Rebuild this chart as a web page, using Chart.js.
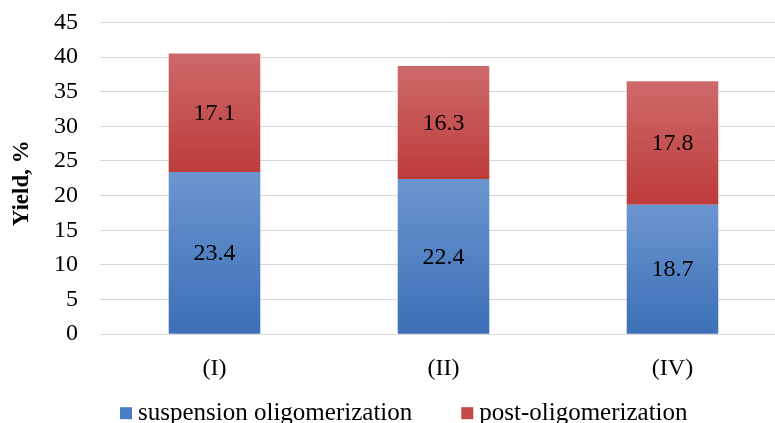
<!DOCTYPE html>
<html>
<head>
<meta charset="utf-8">
<script src="https://cdn.jsdelivr.net/npm/chart.js@4"></script>
<style>
  html, body { margin: 0; padding: 0; background: #ffffff; overflow: hidden; width: 775px; height: 423px; }
  canvas { display: block; margin-top: -14px; }
</style>
</head>
<body>
<canvas id="chart" width="787" height="437"></canvas>
<script>
// Catalyst samples and yields (%) of the two oligomerization stages
const categories = ['(I)', '(II)', '(IV)'];
const suspensionValues = [23.4, 22.4, 18.7];
const postValues = [17.1, 16.3, 17.8];
const seriesNames = ['suspension oligomerization', 'post-oligomerization'];
const yTicks = [0, 5, 10, 15, 20, 25, 30, 35, 40, 45];
const yTitle = 'Yield, %';

const FONT = '"Liberation Serif", "Times New Roman", serif';
Chart.defaults.font.family = FONT;
Chart.defaults.color = '#000000';

const legendColors = ['#4a7ec4', '#c44a4a'];

// Vertical gradient per stacked segment, light at top and darker at bottom
function segmentGradient(ctx, lower, upper, topColor, bottomColor, fallback) {
  const chart = ctx.chart;
  if (!chart.chartArea || ctx.type !== 'data') return fallback;
  const y = chart.scales.y;
  const i = ctx.dataIndex;
  const y0 = y.getPixelForValue(lower[i]);
  const y1 = y.getPixelForValue(upper[i]);
  if (!isFinite(y0) || !isFinite(y1) || y0 === y1) return fallback;
  const g = chart.ctx.createLinearGradient(0, y1, 0, y0);
  g.addColorStop(0, topColor);
  g.addColorStop(1, bottomColor);
  return g;
}

const zeros = suspensionValues.map(() => 0);
const totals = suspensionValues.map((v, i) => v + postValues[i]);

// Writes each segment's value in its centre
const segmentLabels = {
  id: 'segmentLabels',
  afterDatasetsDraw(chart) {
    const c = chart.ctx;
    c.save();
    c.font = '24px ' + FONT;
    c.fillStyle = '#000000';
    c.textAlign = 'center';
    c.textBaseline = 'middle';
    chart.data.datasets.forEach((ds, di) => {
      const meta = chart.getDatasetMeta(di);
      meta.data.forEach((bar, i) => {
        const cy = (bar.y + bar.base) / 2;
        c.fillText(ds.data[i].toFixed(1), bar.x, cy + 1);
      });
    });
    c.restore();
  }
};

// Rotated value-axis title, left of the tick labels
const sideTitle = {
  id: 'sideTitle',
  afterDraw(chart) {
    const c = chart.ctx;
    const area = chart.chartArea;
    c.save();
    c.font = 'bold 23px ' + FONT;
    c.fillStyle = '#000000';
    c.textAlign = 'center';
    c.textBaseline = 'middle';
    c.translate(area.left - 78, (area.top + area.bottom) / 2 + 5);
    c.rotate(-Math.PI / 2);
    c.fillText(yTitle, 0, 0);
    c.restore();
  }
};

// Legend row under the category labels: small square then series name
const bottomLegend = {
  id: 'bottomLegend',
  afterDraw(chart) {
    const c = chart.ctx;
    const area = chart.chartArea;
    c.save();
    c.font = '25px ' + FONT;
    c.textBaseline = 'middle';
    c.textAlign = 'left';
    const y = area.bottom + 79;
    let x = area.left + 20;
    chart.data.datasets.forEach((ds, i) => {
      c.fillStyle = legendColors[i];
      c.fillRect(x, y - 6, 12, 12);
      x += 18;
      c.fillStyle = '#000000';
      c.fillText(ds.label, x, y);
      x += c.measureText(ds.label).width + 49;
    });
    c.restore();
  }
};

new Chart(document.getElementById('chart'), {
  type: 'bar',
  data: {
    labels: categories,
    datasets: [
      {
        label: seriesNames[0],
        data: suspensionValues,
        backgroundColor: (ctx) => segmentGradient(ctx, zeros, suspensionValues, '#6b96d0', '#3c6fb6', legendColors[0]),
        borderWidth: 0
      },
      {
        label: seriesNames[1],
        data: postValues,
        backgroundColor: (ctx) => segmentGradient(ctx, suspensionValues, totals, '#ce6a6a', '#bd3b3b', legendColors[1]),
        borderWidth: 0
      }
    ]
  },
  options: {
    responsive: false,
    animation: false,
    devicePixelRatio: 1,
    datasets: { bar: { barPercentage: 1, categoryPercentage: 0.4 } },
    layout: { padding: { left: 10, right: 0, top: 0, bottom: 20 } },
    plugins: {
      legend: { display: false },
      tooltip: { enabled: false },
      title: { display: false }
    },
    scales: {
      x: {
        stacked: true,
        grid: { display: false, drawTicks: false },
        border: { display: true, color: '#d9d9d9', width: 1 },
        ticks: { font: { family: FONT, size: 24 }, color: '#000000', padding: 20 }
      },
      y: {
        stacked: true,
        min: yTicks[0],
        max: yTicks[yTicks.length - 1],
        afterFit(scale) { scale.width = 90; },
        grid: { color: '#d9d9d9', lineWidth: 1, drawTicks: false },
        border: { display: false },
        ticks: {
          stepSize: 5,
          autoSkip: false,
          font: { family: FONT, size: 24 },
          color: '#000000',
          padding: 22
        },
        title: { display: false }
      }
    }
  },
  plugins: [segmentLabels, sideTitle, bottomLegend]
});
</script>
</body>
</html>
